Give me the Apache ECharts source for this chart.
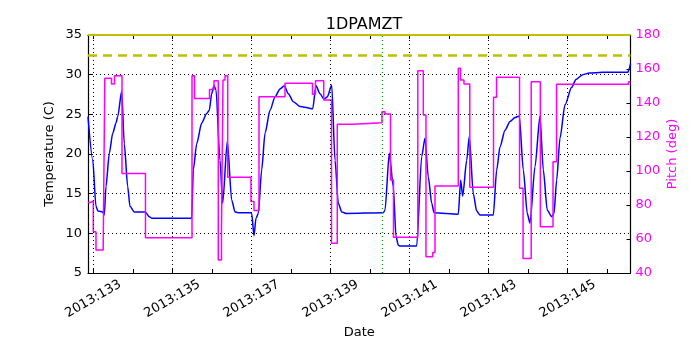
<!DOCTYPE html>
<html>
<head>
<meta charset="utf-8">
<script src="https://cdn.jsdelivr.net/npm/echarts@6/dist/echarts.min.js"></script>
<style>html,body{margin:0;padding:0;background:#fff}#c{width:700px;height:350px}</style>
</head>
<body>
<div id="c"></div>
<script>
// ---- data (day of year 2013) ----
const xMin = 132.866, xMax = 146.59;
const tickDays = [133,134,135,136,137,138,139,140,141,142,143,144,145,146];
const labelDays = [133,135,137,139,141,143,145];
const tempTicks = [5,10,15,20,25,30,35];
const pitchTicks = [40,60,80,100,120,140,160,180];
const limitTemp = 32.5;
const topLimit = 35;
const markerDay = 140.32;

const tempDays = [132.866,132.985,133.068,133.119,133.238,133.278,133.321,133.405,133.491,133.574,133.617,133.718,
  133.784,133.870,133.928,134.037,134.315,134.417,134.485,135.489,135.530,135.616,135.742,135.869,135.934,135.995,
  136.053,136.104,136.205,136.273,136.390,136.501,136.585,136.660,136.989,137.007,137.065,137.116,137.174,137.260,
  137.344,137.470,137.597,137.723,137.832,137.933,138.060,138.229,138.550,138.634,138.735,138.836,138.920,139.031,
  139.115,139.198,139.284,139.410,140.336,140.379,140.488,140.589,140.658,140.716,140.759,141.181,141.308,141.391,
  141.475,141.561,141.619,142.233,142.294,142.345,142.446,142.512,142.613,142.699,142.783,143.119,143.205,143.289,
  143.415,143.542,143.668,143.777,143.878,143.979,144.047,144.174,144.300,144.384,144.485,144.596,144.654,144.722,
  144.806,144.933,145.102,145.211,145.380,145.549,145.886,146.525,146.560,146.59];
const tempValues = [24.7,19.3,13.4,12.8,12.7,12.3,15.9,20.1,22.6,23.9,24.7,27.9,
  21.3,15.9,13.4,12.7,12.7,12.1,11.9,11.9,18.0,21.3,23.9,25.1,25.5,27.6,
  28.6,28.1,19.2,13.8,21.6,14.2,12.7,12.6,12.6,12.5,9.7,11.9,12.5,18.0,
  22.6,25.5,27.2,28.2,28.6,27.6,26.6,26.0,25.7,28.6,27.6,26.9,27.2,28.7,
  19.2,13.8,12.7,12.5,12.6,12.9,20.1,15.9,9.6,8.5,8.4,8.4,19.7,22.0,
  17.1,13.8,12.6,12.4,16.7,14.7,19.2,22.2,15.0,12.8,12.3,12.3,18.0,20.9,
  23.0,24.1,24.6,24.8,18.0,12.5,11.3,18.4,24.8,18.0,12.9,12.1,12.5,16.7,
  22.0,26.2,28.4,29.4,30.0,30.2,30.3,30.3,30.8,31.4];

const pitchDays = [132.866,132.917,133.000,133.068,133.250,133.291,133.460,133.536,133.726,134.320,135.497,135.560,
  135.940,136.053,136.162,136.243,136.281,136.332,136.400,136.989,137.065,137.192,137.850,138.545,138.621,138.829,
  139.026,139.172,139.562,140.303,140.379,140.518,140.594,141.209,141.348,141.416,141.586,141.644,142.233,142.289,
  142.377,142.524,143.125,143.201,143.783,143.872,144.078,144.309,144.630,144.719,146.540,146.59];
const pitchValues = [81.4,82.4,64.3,53.5,52.8,154.5,151.2,156.0,98.6,60.8,156.0,142.7,
  148.0,153.1,47.6,65.0,153.5,156.0,96.3,82.0,76.7,143.7,151.6,145.1,153.1,141.8,
  57.5,127.5,128.4,134.9,133.5,94.7,61.0,159.0,132.9,49.6,52.0,91.2,160.4,153.5,
  151.2,90.4,143.4,155.1,89.8,48.6,152.5,67.2,105.5,151.0,152.5,152.5];

// ---- chart ----
const FONT = 'DejaVu Sans';
const chart = echarts.init(document.getElementById('c'), null, {renderer: 'canvas'});
const zip = (a, b) => a.map((v, i) => [v, b[i]]);
const dotted = {color: '#000', width: 1, type: [1, 3]};

chart.setOption({
  animation: false,
  backgroundColor: '#fff',
  title: {
    text: '1DPAMZT', left: 359, top: 12, textAlign: 'center',
    textStyle: {fontFamily: FONT, fontSize: 16, fontWeight: 'normal', color: '#000'}
  },
  grid: {left: 88, right: 69.5, top: 35, bottom: 77, containLabel: false},
  xAxis: [{
    type: 'value', min: xMin, max: xMax, position: 'bottom',
    name: 'Date', nameLocation: 'middle', nameGap: 53, nameMoveOverlap: false,
    nameTextStyle: {fontFamily: FONT, fontSize: 13, color: '#000'},
    axisLine: {show: true, onZero: false, lineStyle: {color: '#000', width: 1.2}},
    axisTick: {show: true, inside: true, length: 4, customValues: tickDays, lineStyle: {color: '#000'}},
    axisLabel: {show: true, customValues: labelDays, rotate: 30, margin: 26,
      align: 'center', verticalAlign: 'middle',
      fontFamily: FONT, fontSize: 13, color: '#000',
      formatter: v => '2013:' + Math.round(v)},
    splitLine: {show: false}
  }, {
    type: 'value', min: xMin, max: xMax, position: 'top',
    axisLine: {show: true, onZero: false, lineStyle: {color: '#000', width: 1.2}},
    axisTick: {show: true, inside: true, length: 4, customValues: tickDays, lineStyle: {color: '#000'}},
    axisLabel: {show: false},
    splitLine: {show: false}
  }],
  yAxis: [{
    type: 'value', min: 5, max: 35, interval: 5, position: 'left',
    name: 'Temperature (C)', nameLocation: 'middle', nameGap: 38, nameRotate: 90, nameMoveOverlap: false,
    nameTextStyle: {fontFamily: FONT, fontSize: 13, color: '#000', verticalAlign: 'middle'},
    axisLine: {show: true, lineStyle: {color: '#000', width: 1.2}},
    axisTick: {show: true, inside: true, length: 4, lineStyle: {color: '#000'}},
    axisLabel: {fontFamily: FONT, fontSize: 13, color: '#000', margin: 6},
    splitLine: {show: true, lineStyle: dotted}
  }, {
    type: 'value', min: 40, max: 180, interval: 20, position: 'right',
    name: 'Pitch (deg)', nameLocation: 'middle', nameGap: 42, nameRotate: 90, nameMoveOverlap: false,
    nameTextStyle: {fontFamily: FONT, fontSize: 13, color: '#ff00ff', verticalAlign: 'middle'},
    axisLine: {show: true, lineStyle: {color: '#000', width: 1.2}},
    axisTick: {show: true, inside: true, length: 4, lineStyle: {color: '#000'}},
    axisLabel: {fontFamily: FONT, fontSize: 13, color: '#ff00ff', margin: 5},
    splitLine: {show: false}
  }],
  series: [{
    // vertical dotted grid lines at labelled days
    type: 'line', xAxisIndex: 0, yAxisIndex: 0, data: [], silent: true, z: 1,
    markLine: {
      silent: true, symbol: ['none', 'none'], label: {show: false},
      lineStyle: dotted,
      data: labelDays.map(d => ({xAxis: d}))
    }
  }, {
    name: 'Temperature', type: 'line', xAxisIndex: 0, yAxisIndex: 0,
    data: zip(tempDays, tempValues), showSymbol: false, z: 3,
    smooth: 0.25, smoothMonotone: 'x',
    lineStyle: {color: '#0000ff', width: 1.5}, itemStyle: {color: '#0000ff'}
  }, {
    name: 'Pitch', type: 'line', xAxisIndex: 0, yAxisIndex: 1, step: 'end',
    data: zip(pitchDays, pitchValues), showSymbol: false, z: 4,
    lineStyle: {color: '#ff00ff', width: 1.5}, itemStyle: {color: '#ff00ff'}
  }, {
    // limit lines and date marker
    type: 'line', xAxisIndex: 0, yAxisIndex: 0, data: [], silent: true, z: 5,
    markLine: {
      silent: true, symbol: ['none', 'none'], label: {show: false},
      data: [
        {yAxis: limitTemp, lineStyle: {color: '#bfbf00', width: 2.5, type: [9, 6]}},
        {yAxis: topLimit, lineStyle: {color: '#bfbf00', width: 2, type: 'solid'}},
        {xAxis: markerDay, lineStyle: {color: '#00a000', width: 1.3, type: [1, 3]}}
      ]
    }
  }]
});
</script>
</body>
</html>
